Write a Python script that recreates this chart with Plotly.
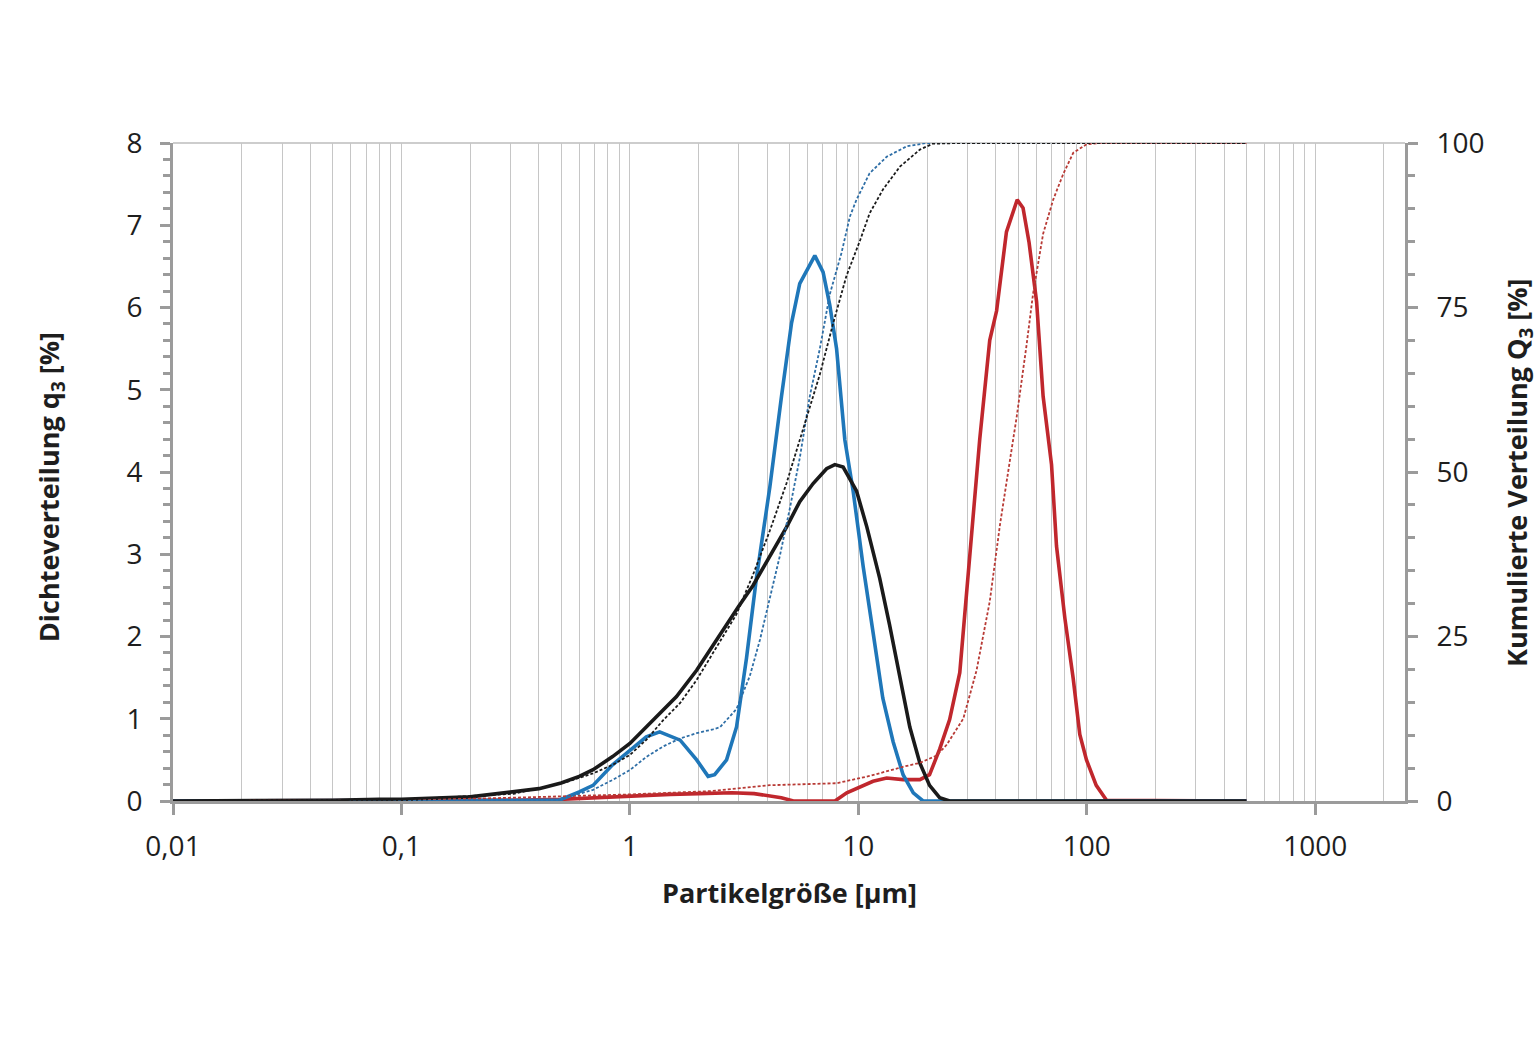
import plotly.graph_objects as go

# ---- data ----
black_q_x = [0.01, 0.02, 0.05, 0.08, 0.1, 0.2, 0.4, 0.5, 0.6, 0.69, 0.84, 1.0, 1.18, 1.40, 1.60, 1.96, 2.39, 2.98,
             3.46, 4.10, 4.85, 5.54, 6.34, 7.26, 7.89, 8.58, 9.82, 10.9, 12.4, 13.7, 15.2, 16.8, 18.6, 20.5, 22.7, 25.1, 500]
black_q_y = [0, 0, 0.01, 0.02, 0.02, 0.05, 0.15, 0.22, 0.30, 0.38, 0.54, 0.70, 0.90, 1.11, 1.27, 1.59, 1.96, 2.36,
             2.62, 2.98, 3.33, 3.64, 3.86, 4.04, 4.09, 4.06, 3.77, 3.33, 2.71, 2.14, 1.52, 0.90, 0.46, 0.19, 0.04, 0, 0]

blue_q_x = [0.01, 0.1, 0.3, 0.49, 0.60, 0.69, 0.84, 1.0, 1.18, 1.35, 1.66, 1.96, 2.20, 2.35, 2.65, 2.93, 3.24, 3.58,
            4.10, 4.61, 5.10, 5.54, 6.45, 7.01, 7.50, 8.03, 8.73, 9.49, 10.5, 11.6, 12.8, 14.2, 15.7, 17.4, 19.2, 500]
blue_q_y = [0, 0, 0, 0.01, 0.11, 0.19, 0.44, 0.62, 0.78, 0.84, 0.74, 0.50, 0.30, 0.32, 0.50, 0.90, 1.74, 2.71,
            3.82, 4.92, 5.81, 6.29, 6.63, 6.43, 6.03, 5.50, 4.39, 3.77, 2.85, 2.05, 1.25, 0.72, 0.32, 0.10, 0, 0]

red_q_x = [0.01, 0.1, 0.3, 0.5, 0.7, 1.0, 1.5, 2.0, 2.8, 3.5, 4.0, 4.6, 5.2, 7.9, 8.9, 10.2, 11.6, 13.3, 15.7, 18.6,
           20.5, 22.7, 25.1, 27.8, 30.7, 34.0, 37.6, 40.3, 44.5, 49.6, 52.6, 55.9, 60.3, 64.4, 70.1, 73.7, 80.2,
           87.2, 93.2, 99.7, 110, 122, 500]
red_q_y = [0, 0, 0.01, 0.02, 0.04, 0.06, 0.08, 0.09, 0.10, 0.09, 0.07, 0.04, 0, 0, 0.10, 0.17, 0.24, 0.28, 0.26, 0.26,
           0.32, 0.63, 0.99, 1.56, 2.95, 4.40, 5.60, 5.96, 6.92, 7.31, 7.21, 6.79, 6.07, 4.92, 4.09, 3.10, 2.22,
           1.49, 0.81, 0.50, 0.19, 0.01, 0]

black_Q_x = [0.01, 0.1, 0.31, 0.53, 0.69, 0.84, 1.0, 1.18, 1.40, 1.66, 1.96, 2.31, 2.93, 3.46, 4.10, 4.85, 5.73,
             6.78, 7.76, 8.87, 10.2, 11.2, 12.8, 15.2, 18.6, 21.2, 27.8, 500]
black_Q_y = [0, 0.2, 1.1, 2.9, 4.2, 5.5, 7.0, 9.3, 12.3, 14.9, 18.4, 22.5, 28.4, 34.4, 41.1, 48.3, 56.6,
             64.8, 72.6, 79.8, 85.3, 89.3, 92.9, 96.4, 99.0, 99.9, 100, 100]

blue_Q_x = [0.01, 0.3, 0.49, 0.53, 0.69, 0.84, 1.0, 1.18, 1.40, 1.66, 1.96, 2.31, 2.48, 2.93, 3.35, 3.71, 4.10,
            4.53, 5.01, 5.54, 6.13, 6.78, 7.50, 8.44, 9.18, 9.82, 11.2, 13.3, 16.3, 19.9, 500]
blue_Q_y = [0, 0, 0.1, 0.56, 1.7, 3.2, 4.7, 6.7, 8.3, 9.5, 10.3, 10.9, 11.2, 14.0, 19.0, 24.5, 31.1,
            37.2, 44.4, 52.1, 61.5, 68.7, 77.0, 83.3, 88.8, 91.4, 95.4, 97.9, 99.5, 100, 100]

red_Q_x = [0.01, 0.1, 0.31, 1.0, 2.26, 4.10, 8.03, 11.2, 15.7, 18.6, 22.0, 24.3, 28.8, 32.9, 37.6, 41.7, 46.1,
           49.3, 54.5, 58.2, 64.4, 71.3, 78.9, 87.2, 99.7, 114, 500]
red_Q_y = [0, 0.1, 0.5, 1.0, 1.5, 2.4, 2.7, 3.8, 5.2, 5.8, 6.9, 8.5, 12.5, 19.8, 30.3, 42.0, 51.8,
           58.3, 69.3, 77.1, 86.2, 91.4, 95.3, 98.5, 99.8, 100, 100]

x_tick_vals = [0.01, 0.1, 1, 10, 100, 1000]
x_tick_text = ["0,01", "0,1", "1", "10", "100", "1000"]
y2_tick_vals = [0, 25, 50, 75, 100]

# ---- styling ----
AX = "#9b9b9b"
GRID = "#c6c6c6"
TXT = "#1e1e1e"
BLUE = "#1f77b9"
RED = "#c0272d"
BLACK = "#1a1a1a"
FONT = "Open Sans"
TICKSIZE = 28
TITLESIZE = 27

minor_grid = [m * 10 ** d for d in range(-2, 4) for m in range(2, 10) if m * 10 ** d <= 2470]

fig = go.Figure()

dash = "3px,2px"
fig.add_trace(go.Scatter(x=red_Q_x, y=red_Q_y, yaxis="y2", mode="lines",
                         line=dict(color="#b83a35", width=1.8, dash=dash), name="Q3 rot"))
fig.add_trace(go.Scatter(x=blue_Q_x, y=blue_Q_y, yaxis="y2", mode="lines",
                         line=dict(color="#2e6ea6", width=1.8, dash=dash), name="Q3 blau"))
fig.add_trace(go.Scatter(x=black_Q_x, y=black_Q_y, yaxis="y2", mode="lines",
                         line=dict(color=BLACK, width=1.8, dash=dash), name="Q3 schwarz"))
fig.add_trace(go.Scatter(x=red_q_x, y=red_q_y, mode="lines",
                         line=dict(color=RED, width=3.6), name="q3 rot"))
fig.add_trace(go.Scatter(x=blue_q_x, y=blue_q_y, mode="lines",
                         line=dict(color=BLUE, width=3.6), name="q3 blau"))
fig.add_trace(go.Scatter(x=black_q_x, y=black_q_y, mode="lines",
                         line=dict(color=BLACK, width=3.6), name="q3 schwarz"))

fig.update_layout(
    width=1540, height=1045, autosize=False,
    margin=dict(l=173, r=135, t=143, b=244, pad=0),
    paper_bgcolor="white", plot_bgcolor="white",
    showlegend=False,
    font=dict(family=FONT, color=TXT, size=TICKSIZE),
    xaxis=dict(
        type="log", range=[-2, 3.393],
        tickmode="array", tickvals=x_tick_vals, ticktext=x_tick_text,
        ticks="outside", ticklen=11, tickwidth=3, tickcolor=AX,
        ticklabelstandoff=7,
        showline=True, linewidth=3, linecolor=AX,
        showgrid=True, gridcolor=GRID, gridwidth=1,
        minor=dict(tickmode="array", tickvals=minor_grid, showgrid=True,
                   gridcolor=GRID, gridwidth=1, ticks=""),
        tickfont=dict(size=TICKSIZE, family=FONT, color=TXT),
        zeroline=False,
    ),
    yaxis=dict(
        range=[0, 8], tick0=0, dtick=1,
        ticks="outside", ticklen=10, tickwidth=3, tickcolor=AX,
        ticklabelstandoff=12,
        minor=dict(dtick=0.2, ticks="outside", ticklen=7, tickwidth=3, tickcolor=AX, showgrid=False),
        showline=True, linewidth=3, linecolor=AX,
        showgrid=False, zeroline=False,
        tickfont=dict(size=TICKSIZE, family=FONT, color=TXT),
    ),
    yaxis2=dict(
        overlaying="y", side="right", range=[0, 100],
        tickmode="array", tickvals=y2_tick_vals,
        ticks="outside", ticklen=10, tickwidth=3, tickcolor=AX,
        ticklabelstandoff=13,
        minor=dict(tickmode="linear", tick0=0, dtick=5, ticks="outside", ticklen=7, tickwidth=3,
                   tickcolor=AX, showgrid=False),
        showline=True, linewidth=3, linecolor=AX,
        showgrid=False, zeroline=False,
        tickfont=dict(size=TICKSIZE, family=FONT, color=TXT),
    ),
    shapes=[dict(type="line", xref="paper", yref="paper", x0=0, x1=1, y0=1, y1=1,
                 line=dict(color=AX, width=1.2), layer="below")],
    annotations=[
        dict(text="<b>Partikelgröße [µm]</b>", xref="paper", yref="paper", x=0.5, y=-0.1398,
             showarrow=False, xanchor="center", yanchor="middle",
             font=dict(size=TITLESIZE, family=FONT, color=TXT)),
        dict(text="<b>Dichteverteilung q<sub>3</sub> [%]</b>", xref="paper", yref="paper",
             x=-0.0998, y=0.477, textangle=-90, showarrow=False, xanchor="center", yanchor="middle",
             font=dict(size=TITLESIZE, family=FONT, color=TXT)),
        dict(text="<b>Kumulierte Verteilung Q<sub>3</sub> [%]</b>", xref="paper", yref="paper",
             x=1.0917, y=0.5, textangle=-90, showarrow=False, xanchor="center", yanchor="middle",
             font=dict(size=TITLESIZE, family=FONT, color=TXT)),
    ],
)

fig.write_html("out.html")
